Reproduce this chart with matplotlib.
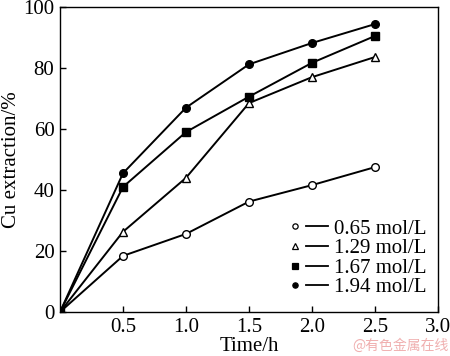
import matplotlib
matplotlib.use("Agg")
import matplotlib.pyplot as plt
from matplotlib.lines import Line2D
from matplotlib.legend_handler import HandlerBase

plt.rcParams['font.family'] = ['Liberation Serif', 'DejaVu Serif']
plt.rcParams['mathtext.fontset'] = 'stix'

time_h = [0, 0.5, 1.0, 1.5, 2.0, 2.5]
c065 = [0, 18.4, 25.6, 36.2, 41.6, 47.5]
c129 = [0, 26.3, 44.0, 68.5, 77.0, 83.6]
c167 = [0, 41.0, 59.0, 70.6, 81.7, 90.5]
c194 = [0, 45.5, 67.0, 81.2, 88.2, 94.4]
labels = ['0.65 mol/L', '1.29 mol/L', '1.67 mol/L', '1.94 mol/L']
xticks = [0.5, 1.0, 1.5, 2.0, 2.5, 3.0]
yticks = [0, 20, 40, 60, 80, 100]

FS = 15

fig = plt.figure(figsize=(4.5, 3.56), dpi=100)
ax = fig.add_axes([60/450, 1-312/356, 378/450, 305/356])

styles = [('o', 'white'), ('^', 'white'), ('s', 'black'), ('o', 'black')]
series = [c065, c129, c167, c194]
for s, (m, fc), lab in zip(series, styles, labels):
    ax.plot(time_h, s, color='black', lw=1.4, marker=m, ms=5.5,
            mfc=fc, mec='black', mew=1.0, label=lab)


class MarkerThenLine(HandlerBase):
    def create_artists(self, legend, orig_handle, xdescent, ydescent,
                       width, height, fontsize, trans):
        y = height / 2 - ydescent
        x0 = -xdescent
        mk = Line2D([x0 + 0.08 * width], [y], ls='none',
                    marker=orig_handle.get_marker(), ms=3.8,
                    mfc=orig_handle.get_markerfacecolor(), mec='black', mew=0.9)
        ln = Line2D([x0 + 0.38 * width, x0 + width], [y, y], color='black', lw=1.3)
        mk.set_transform(trans)
        ln.set_transform(trans)
        return [mk, ln]


handles = ax.get_lines()
ax.legend(handles=handles, labels=labels, handler_map={Line2D: MarkerThenLine()},
          loc='lower right', bbox_to_anchor=(1.008, 0.0), frameon=False,
          fontsize=FS, labelspacing=0.0, handlelength=1.7, handletextpad=0.3,
          borderpad=0.2)

ax.set_xlim(0, 3.0)
ax.set_ylim(0, 100)
ax.set_xticks(xticks)
ax.set_xticklabels(['%.1f' % t for t in xticks])
ax.set_yticks(yticks)
ax.tick_params(direction='in', length=4, width=1, labelsize=FS, pad=4)
for sp in ax.spines.values():
    sp.set_linewidth(1.0)
ax.set_xlabel('Time/h', fontsize=FS, labelpad=0)
ax.set_ylabel('Cu extraction/%', fontsize=FS, labelpad=2)

fig.text(1 - 0.003, 0.008, '@有色金属在线', fontsize=10, color='#f0b0b0',
         ha='right', va='bottom', family=['Noto Sans CJK SC', 'DejaVu Sans'])

fig.savefig('out.png', dpi=100)
